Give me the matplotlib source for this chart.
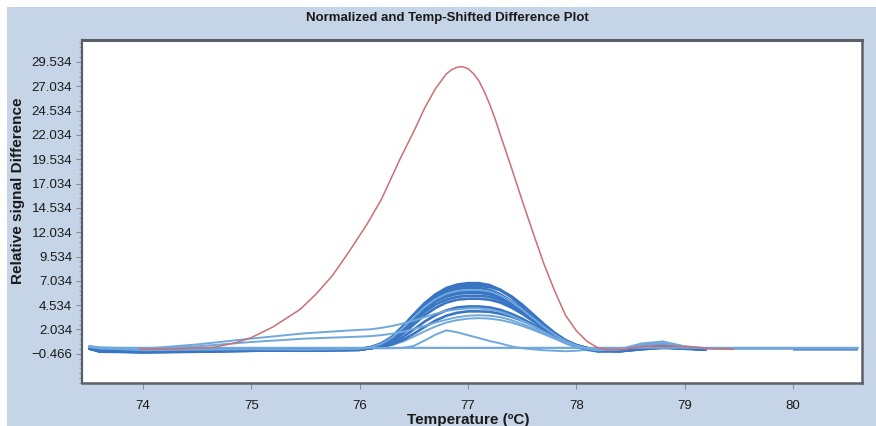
import matplotlib
matplotlib.use("Agg")
import matplotlib.pyplot as plt
import matplotlib.patches as mpatches
import numpy as np
from matplotlib import font_manager

nan = np.nan

# ---------------- data ----------------
title = "Normalized and Temp-Shifted Difference Plot"
xlabel = "Temperature (ºC)"
ylabel = "Relative signal Difference"

x_ticks = [74, 75, 76, 77, 78, 79, 80]
y_ticks = [-0.466, 2.034, 4.534, 7.034, 9.534, 12.034, 14.534, 17.034,
           19.534, 22.034, 24.534, 27.034, 29.534]
y_tick_labels = ["\u22120.466", "2.034", "4.534", "7.034", "9.534", "12.034", "14.534",
                 "17.034", "19.534", "22.034", "24.534", "27.034", "29.534"]

# red (reference) curve
red_temp = [73.97, 74.3, 74.65, 74.85, 75.0, 75.2, 75.45, 75.6, 75.75, 75.9, 76.07, 76.2,
            76.3, 76.37, 76.5, 76.6, 76.7, 76.8, 76.85, 76.9, 76.95, 77.0, 77.05, 77.1,
            77.15, 77.2, 77.25, 77.3, 77.4, 77.5, 77.6, 77.7, 77.8, 77.9, 78.0, 78.1,
            78.2, 78.3, 78.45, 78.6, 78.9, 79.2, 79.45]
red_vals = [0.0, 0.05, 0.2, 0.65, 1.2, 2.3, 4.1, 5.7, 7.6, 10.0, 12.9, 15.4,
            17.8, 19.5, 22.4, 24.8, 26.8, 28.3, 28.75, 29.0, 29.05, 28.85, 28.35, 27.6,
            26.5, 25.2, 23.7, 22.0, 18.7, 15.3, 12.0, 8.8, 6.0, 3.5, 1.9, 0.8,
            0.15, -0.05, 0.0, 0.3, 0.35, 0.1, 0.0]

# shared temperature grid for the blue sample curves
temp = [73.5, 73.6, 74.0, 74.5, 75.0, 75.5, 76.0, 76.1, 76.2, 76.3, 76.4, 76.5,
        76.6, 76.7, 76.8, 76.9, 77.0, 77.1, 77.2, 77.3, 77.4, 77.5, 77.6, 77.7,
        77.8, 77.9, 78.0, 78.1, 78.2, 78.4, 78.6, 78.8, 79.0, 79.2, 79.6, 80.0, 80.6]

d1 = [0.2, -0.15, -0.2, -0.1, -0.05, -0.1, -0.05, 0.2, 0.6, 1.3, 2.4, 3.6, 4.75, 5.65, 6.3, 6.65,
      6.8, 6.8, 6.6, 6.1, 5.35, 4.4, 3.4, 2.4, 1.5, 0.85, 0.4, 0.12, -0.05, -0.15, 0.1, 0.3,
      0.15, 0.0, nan, nan, nan]
d2 = [0.1, -0.2, -0.25, -0.2, -0.1, -0.15, -0.05, 0.15, 0.5, 1.15, 2.2, 3.4, 4.55, 5.5, 6.1, 6.5,
      6.65, 6.65, 6.5, 6.1, 5.4, 4.5, 3.5, 2.5, 1.6, 0.9, 0.4, 0.1, -0.1, -0.1, 0.2, 0.35,
      0.1, 0.0, nan, nan, nan]
d3 = [0.15, -0.1, -0.2, -0.15, -0.1, -0.05, 0.0, 0.1, 0.4, 0.95, 1.9, 3.05, 4.2, 5.15, 5.85, 6.3,
      6.5, 6.5, 6.4, 6.05, 5.45, 4.6, 3.6, 2.6, 1.7, 0.95, 0.45, 0.12, -0.1, -0.2, 0.0, 0.2,
      0.1, 0.0, nan, 0.0, 0.0]
d4 = [0.1, -0.25, -0.3, -0.2, -0.15, -0.1, -0.05, 0.2, 0.6, 1.25, 2.3, 3.4, 4.5, 5.3, 5.9, 6.2,
      6.3, 6.3, 6.1, 5.65, 4.95, 4.1, 3.15, 2.2, 1.4, 0.8, 0.35, 0.1, -0.05, -0.1, 0.15, 0.25,
      0.1, -0.05, nan, nan, nan]
d5 = [0.1, -0.2, -0.25, -0.15, -0.1, -0.1, 0.0, 0.15, 0.45, 1.05, 2.0, 3.1, 4.2, 5.0, 5.6, 5.9,
      6.0, 6.0, 5.85, 5.45, 4.8, 4.0, 3.1, 2.2, 1.4, 0.8, 0.35, 0.1, -0.05, -0.15, 0.05, 0.3,
      0.2, 0.0, nan, nan, nan]
d6 = [0.05, -0.15, -0.3, -0.25, -0.15, -0.1, 0.0, 0.2, 0.5, 1.1, 2.05, 3.1, 4.1, 4.9, 5.4, 5.7,
      5.8, 5.8, 5.65, 5.25, 4.65, 3.9, 3.05, 2.2, 1.45, 0.85, 0.4, 0.1, -0.1, -0.1, 0.1, 0.2,
      0.05, -0.05, nan, nan, nan]
d7 = [0.1, -0.2, -0.2, -0.15, -0.1, -0.05, 0.05, 0.2, 0.45, 0.95, 1.85, 2.85, 3.85, 4.6, 5.1, 5.4,
      5.5, 5.5, 5.4, 5.05, 4.5, 3.8, 3.0, 2.2, 1.45, 0.85, 0.4, 0.1, -0.1, -0.2, 0.0, 0.15,
      0.1, 0.0, nan, nan, nan]
d8 = [0.15, -0.1, -0.25, -0.2, -0.1, -0.1, -0.05, 0.1, 0.35, 0.8, 1.6, 2.55, 3.5, 4.25, 4.8, 5.1,
      5.2, 5.2, 5.1, 4.8, 4.3, 3.65, 2.9, 2.15, 1.45, 0.85, 0.4, 0.1, -0.1, -0.15, 0.1, 0.2,
      0.1, 0.0, nan, nan, nan]
d9 = [0.1, -0.2, -0.3, -0.25, -0.15, -0.1, -0.05, 0.1, 0.3, 0.65, 1.25, 2.05, 2.85, 3.5, 4.0, 4.3,
      4.4, 4.4, 4.3, 4.05, 3.65, 3.15, 2.55, 1.9, 1.3, 0.75, 0.3, 0.0, -0.2, -0.2, 0.05, 0.2,
      0.1, 0.0, nan, nan, nan]
d10 = [0.1, -0.15, -0.25, -0.2, -0.1, -0.1, 0.0, 0.1, 0.25, 0.5, 0.95, 1.6, 2.3, 2.95, 3.45, 3.75,
       3.9, 3.9, 3.85, 3.65, 3.35, 2.95, 2.45, 1.9, 1.35, 0.85, 0.4, 0.05, -0.2, -0.2, 0.1, 0.25,
       0.1, 0.0, nan, nan, nan]

l_a = [0.3, 0.1, -0.1, -0.05, 0.0, -0.05, 0.05, 0.2, 0.55, 1.2, 2.2, 3.3, 4.35, 5.15, 5.7, 6.0,
       6.1, 6.1, 5.95, 5.55, 4.9, 4.1, 3.2, 2.3, 1.5, 0.85, 0.4, 0.12, 0.0, 0.0, 0.5, 0.7,
       0.3, 0.1, 0.1, 0.1, 0.1]
l_1 = [0.35, 0.2, 0.05, 0.5, 1.1, 1.65, 2.0, 2.05, 2.2, 2.4, 2.65, 2.95, 3.3, 3.65, 3.95, 4.1,
       4.2, 4.2, 4.1, 3.85, 3.45, 2.95, 2.4, 1.8, 1.2, 0.7, 0.3, 0.05, -0.1, 0.0, 0.6, 0.8,
       0.3, 0.1, 0.1, 0.1, 0.1]
l_2 = [0.25, 0.1, 0.0, 0.3, 0.75, 1.1, 1.3, 1.35, 1.45, 1.6, 1.8, 2.1, 2.4, 2.75, 3.05, 3.3,
       3.45, 3.5, 3.45, 3.3, 3.0, 2.6, 2.15, 1.65, 1.15, 0.7, 0.3, 0.05, -0.1, -0.05, 0.4, 0.6,
       0.2, 0.1, 0.1, 0.1, 0.1]
l_c = [0.2, 0.0, -0.1, -0.1, -0.05, -0.05, 0.0, 0.1, 0.2, 0.45, 0.8, 1.3, 1.85, 2.35, 2.75, 3.0,
       3.15, 3.2, 3.15, 3.0, 2.75, 2.4, 2.0, 1.55, 1.1, 0.6, 0.2, -0.1, -0.25, -0.1, 0.3, 0.5,
       0.2, 0.1, 0.1, 0.1, 0.1]
l_tri = [0.2, 0.1, 0.05, 0.1, 0.1, 0.1, 0.1, 0.1, 0.1, 0.1, 0.15, 0.35, 0.9, 1.5, 1.95, 1.75,
         1.45, 1.15, 0.85, 0.6, 0.3, 0.1, 0.0, -0.1, -0.15, -0.2, -0.15, -0.05, 0.0, 0.05, 0.1, 0.1,
         0.1, 0.1, 0.1, 0.1, 0.1]
l_flat = [0.3, 0.15, 0.15, 0.15, 0.15, 0.15, 0.15, 0.15, 0.15, 0.15, 0.15, 0.15, 0.15, 0.15, 0.15, 0.15,
          0.15, 0.15, 0.15, 0.15, 0.15, 0.15, 0.15, 0.15, 0.15, 0.15, 0.15, 0.15, 0.15, 0.15, 0.15, 0.15,
          0.15, 0.15, 0.15, 0.15, 0.15]

dark_curves = [d10, d9, d8, d7, d6, d5, d4, d3, d2, d1]
light_curves = [l_flat, l_tri, l_c, l_2, l_1, l_a]

# ---------------- styling ----------------
names = {f.name for f in font_manager.fontManager.ttflist}
FAM = "Liberation Sans Narrow" if "Liberation Sans Narrow" in names else "Liberation Sans"
plt.rcParams["font.family"] = [FAM, "DejaVu Sans"]

BG = "#c5d5e7"
DARK = "#3a75c4"
LIGHT = "#70a8dc"
RED = "#cc6e74"
SPINE = "#5b6068"

W, H = 876, 426
fig = plt.figure(figsize=(W / 100, H / 100), dpi=100)
fig.patch.set_facecolor("white")
fig.patches.append(mpatches.Rectangle((7 / W, 0), 1 - 7 / W, 1 - 7 / H,
                                      transform=fig.transFigure, facecolor=BG,
                                      edgecolor="none", zorder=-10))

ax = fig.add_axes([82 / W, 43 / H, 780 / W, 343 / H])
ax.set_facecolor("white")

t = np.array(temp)
for c in light_curves[:3]:
    ax.plot(t, c, color=LIGHT, lw=1.4, solid_capstyle="butt", zorder=2)
for c in dark_curves:
    ax.plot(t, c, color=DARK, lw=1.9, solid_capstyle="butt", solid_joinstyle="round", zorder=3)
for c in light_curves[3:]:
    ax.plot(t, c, color=LIGHT, lw=1.4, solid_capstyle="butt", zorder=4)
ax.plot(t, l_flat, color=LIGHT, lw=1.3, zorder=4)

ax.plot(red_temp, red_vals, color=RED, lw=1.1, solid_joinstyle="round", zorder=5)

ax.set_xlim(73.437, 80.637)
ax.set_ylim(-3.446, 31.794)
ax.set_xticks(x_ticks)
ax.set_xticklabels([str(v) for v in x_ticks])
ax.set_yticks(y_ticks)
ax.set_yticklabels(y_tick_labels)
ax.set_yticks(np.arange(-3.466, 31.6, 0.5), minor=True)

ax.tick_params(axis="both", which="major", labelsize=9.5, labelcolor="#1a1a1a",
               color="#8a9099", length=4, width=0.8, direction="out", pad=3)
ax.tick_params(axis="y", which="minor", length=2, width=0.6, color="#8a9099")
ax.tick_params(axis="x", pad=8)

for side, lw in (("top", 2.2), ("left", 1.6), ("bottom", 1.8), ("right", 1.8)):
    ax.spines[side].set_color(SPINE)
    ax.spines[side].set_linewidth(lw)

fig.text(447 / W, 1 - 18 / H, title, ha="center", va="center",
         fontsize=9.5, fontweight="bold", color="#1a1a1a")
fig.text(18 / W, 1 - 191 / H, ylabel, ha="center", va="center", rotation=90,
         fontsize=11, fontweight="bold", color="#1a1a1a")
fig.text(468 / W, 1 - 420 / H, xlabel, ha="center", va="center",
         fontsize=11, fontweight="bold", color="#1a1a1a")

fig.savefig("out.png", dpi=100, facecolor=fig.get_facecolor())
